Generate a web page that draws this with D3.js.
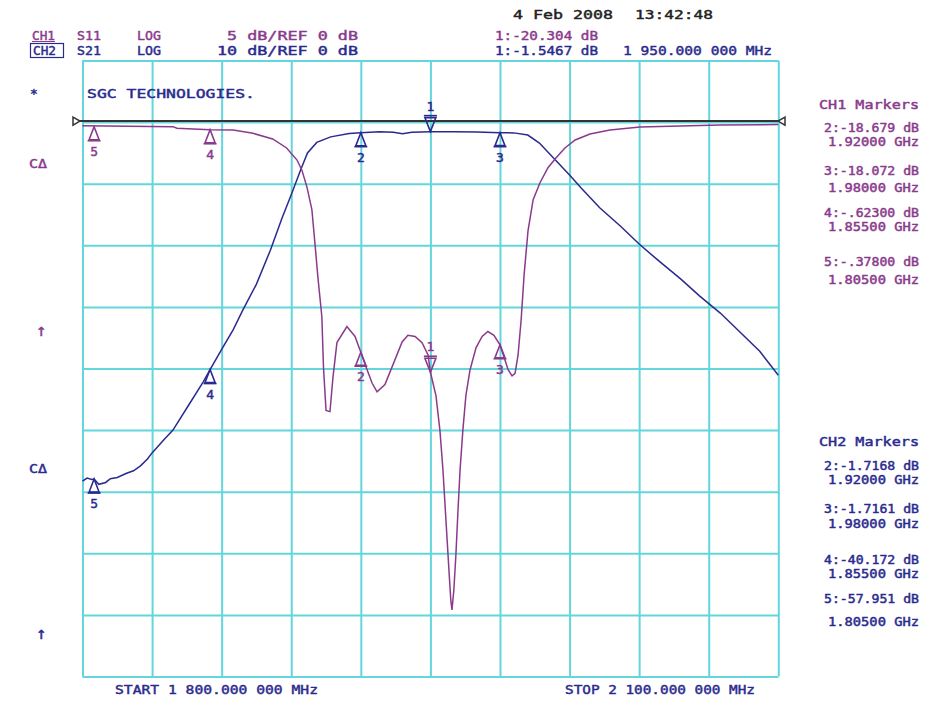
<!DOCTYPE html>
<html><head><meta charset="utf-8">
<script src="https://cdn.jsdelivr.net/npm/d3@7"></script>
<style>
body{margin:0;background:#fff}
text{font-family:"DejaVu Sans Mono",monospace;font-size:13px;stroke-width:0.45px;paint-order:stroke}
</style>
</head><body><svg id="c" width="941" height="714"></svg>
<script>
// ---------- DATA ----------
const s11Freq = [1800,1839,1840.7,1855,1865,1873.5,1882,1888,1892.5,1894.6,1896.8,1898.9,1900.2,1901.5,1903.2,1903.9,1905,1906.7,1908,1909.7,1914,1917.5,1920,1922.7,1924.9,1927,1930.4,1934.7,1937.8,1940.3,1943.4,1946.4,1949,1950,1952.4,1954.1,1955.4,1956.7,1958,1958.8,1959.3,1960.1,1961,1961.9,1962.8,1964,1965.3,1967.1,1969.7,1972.3,1974.8,1977.4,1980,1981.8,1983.5,1985.2,1986.5,1987.8,1989.1,1990.4,1992.1,1994.3,1997.3,2000.7,2004.2,2008,2012.4,2018.8,2027.4,2040.4,2057.6,2074.9,2100];
const s11Db = [-0.29,-0.37,-0.5,-0.623,-0.64,-0.91,-1.37,-2.1,-3.08,-3.9,-5.3,-7.1,-9.8,-12.6,-15.8,-19.9,-23.4,-23.5,-20.7,-17.9,-16.6,-17.4,-18.679,-20.1,-21.2,-21.9,-21.3,-19.3,-17.85,-17.3,-17.4,-17.9,-18.9,-20.304,-22.2,-25.0,-28.2,-32.3,-36.4,-38.8,-39.6,-38.0,-35.1,-31.5,-28.2,-25.0,-22.2,-20.1,-18.3,-17.4,-17.0,-17.3,-18.072,-19.1,-20.1,-20.6,-20.4,-18.9,-16.1,-12.4,-8.8,-6.3,-4.9,-3.7,-2.9,-2.1,-1.45,-0.97,-0.64,-0.4,-0.32,-0.24,-0.2];

const s21Freq = [1800,1802,1804,1805,1807,1810,1812,1815,1819,1822,1825,1828,1830,1835,1839,1846,1852,1855,1860,1865,1869,1875,1881,1886,1890,1894,1897,1901,1907,1915,1920,1928,1934,1938,1942,1950,1960,1970,1980,1986,1992,1997,2004,2010,2015,2023,2032,2040,2049,2058,2066,2075,2083,2092,2100];
const s21Db = [-58.3,-57.8,-58.0,-57.95,-58.8,-58.5,-57.9,-57.7,-57.0,-56.6,-55.8,-54.7,-53.7,-51.6,-50.0,-45.8,-42.2,-40.172,-36.9,-33.7,-30.6,-26.3,-20.8,-15.6,-11.8,-7.8,-5.0,-3.3,-2.4,-1.85,-1.7168,-1.55,-1.65,-1.9,-1.65,-1.5467,-1.55,-1.6,-1.7161,-1.75,-2.1,-3.4,-6.2,-8.6,-10.7,-13.9,-16.9,-19.8,-22.7,-25.5,-28.2,-31.0,-33.9,-37.2,-41.1];

const markerIds = ["1","2","3","4","5"];
const markerFreq = [1950,1920,1980,1855,1805];
const ch1MarkerDb = [-20.304,-18.679,-18.072,-0.623,-0.378];
const ch2MarkerDb = [-1.5467,-1.7168,-1.7161,-40.172,-57.951];

const ch1ReadoutDb = ["2:-18.679 dB","3:-18.072 dB","4:-.62300 dB","5:-.37800 dB"];
const ch2ReadoutDb = ["2:-1.7168 dB","3:-1.7161 dB","4:-40.172 dB","5:-57.951 dB"];
const readoutGHz = ["1.92000 GHz","1.98000 GHz","1.85500 GHz","1.80500 GHz"];

const freqStart = 1800, freqStop = 2100;
const ch1Scale = 5, ch2Scale = 10, refDb = 0;

// ---------- STYLE ----------
const C1 = "#8a3a8c", C2 = "#2a2a8e", GRID = "#62d6dc", BLK = "#333";

const svg = d3.select("#c");
const L = 82.5, R = 778.3, T = 60.5, B = 676.5;
const x = d3.scaleLinear().domain([freqStart, freqStop]).range([L, R]);
const y1 = d3.scaleLinear().domain([refDb + ch1Scale, refDb - 9*ch1Scale]).range([T, B]);
const y2 = d3.scaleLinear().domain([refDb + ch2Scale, refDb - 9*ch2Scale]).range([T, B]);

// grid via axes
const gx = svg.append("g").attr("transform", `translate(0,${B})`)
  .call(d3.axisBottom(x).tickValues(d3.range(freqStart, freqStop + 1, 30)).tickSize(-(B - T)).tickFormat(""));
const gy = svg.append("g").attr("transform", `translate(${L},0)`)
  .call(d3.axisLeft(y1).tickValues(d3.range(refDb + ch1Scale, refDb - 9*ch1Scale - 1, -ch1Scale)).tickSize(-(R - L)).tickFormat(""));
[gx, gy].forEach(g => {
  g.select(".domain").remove();
  g.selectAll("line").attr("stroke", GRID).attr("stroke-width", 2);
});

// reference line
const ry = y1(refDb) - 1;
svg.append("line").attr("x1", 74).attr("x2", 782).attr("y1", ry).attr("y2", ry)
  .attr("stroke", BLK).attr("stroke-width", 2);
svg.append("path").attr("d", `M73,${ry-4}L80,${ry}L73,${ry+4}Z`).attr("fill", "#fff").attr("stroke", BLK).attr("stroke-width", 1.5);
svg.append("path").attr("d", `M785,${ry-4}L778,${ry}L785,${ry+4}Z`).attr("fill", "#fff").attr("stroke", BLK).attr("stroke-width", 1.5);

// traces
const line1 = d3.line().x((d, i) => x(s11Freq[i])).y(d => y1(d));
const line2 = d3.line().x((d, i) => x(s21Freq[i])).y(d => y2(d));
svg.append("path").attr("d", line2(s21Db)).attr("fill", "none").attr("stroke", C2).attr("stroke-width", 1.5);
svg.append("path").attr("d", line1(s11Db)).attr("fill", "none").attr("stroke", C1).attr("stroke-width", 1.5);

// markers
function marker(px, py, id, color, active) {
  const g = svg.append("g").attr("stroke", color).attr("fill", "none").attr("stroke-width", 1.6);
  if (active) {
    g.append("path").attr("d", `M${px},${py}L${px-5.5},${py-14}L${px+5.5},${py-14}Z`);
    g.append("path").attr("d", `M${px-6.5},${py-16}H${px+6.5}`);
    svg.append("text").attr("x", px).attr("y", py - 21).attr("text-anchor", "middle").attr("fill", color).attr("stroke", color).text(id);
  } else {
    g.append("path").attr("d", `M${px},${py}L${px-5},${py+13}L${px+5},${py+13}Z`);
    g.append("path").attr("d", `M${px-6.5},${py+14}H${px+6.5}`);
    svg.append("text").attr("x", px).attr("y", py + 29).attr("text-anchor", "middle").attr("fill", color).attr("stroke", color).text(id);
  }
}
markerIds.forEach((id, i) => {
  marker(x(markerFreq[i]), y2(ch2MarkerDb[i]), id, C2, i === 0);
  marker(x(markerFreq[i]), y1(ch1MarkerDb[i]), id, C1, i === 0);
});

// texts
function txt(tx, ty, s, color, len, anchor, size) {
  const t = svg.append("text").attr("x", tx).attr("y", ty).attr("fill", color).attr("stroke", color).text(s);
  if (len) t.attr("textLength", len).attr("lengthAdjust", "spacingAndGlyphs");
  if (anchor) t.attr("text-anchor", anchor);
  if (size) t.style("font-size", size + "px");
  return t;
}
txt(513, 18.5, "4 Feb 2008", "#222", 100);
txt(635, 18.5, "13:42:48", "#222", 78);

txt(32, 39.5, "CH1", C1, 23);
svg.append("line").attr("x1", 32).attr("x2", 55).attr("y1", 41.5).attr("y2", 41.5).attr("stroke", C1).attr("stroke-width", 1);
txt(77, 39.5, "S11", C1, 24);
txt(137, 39.5, "LOG", C1, 24);
txt(227, 39.5, `${ch1Scale} dB/REF ${refDb} dB`, C1, 131);
txt(33, 55, "CH2", C2, 23);
svg.append("rect").attr("x", 30.5).attr("y", 43.5).attr("width", 33).attr("height", 14).attr("fill", "none").attr("stroke", C2).attr("stroke-width", 1.2);
txt(77, 55, "S21", C2, 24);
txt(137, 55, "LOG", C2, 24);
txt(217, 55, `${ch2Scale} dB/REF ${refDb} dB`, C2, 141);

txt(495, 39.5, "1:" + ch1MarkerDb[0] + " dB", C1, 103);
txt(495, 55, "1:" + ch2MarkerDb[0] + " dB", C2, 103);
txt(623, 55, "1 950.000 000 MHz", C2, 149);

txt(30, 98, "*", C2);
txt(87, 98, "SGC TECHNOLOGIES.", C2, 168);

txt(29, 168, "CΔ", C1, 18);
txt(36, 336, "↑", C1, null, null, 17);
txt(29, 473, "CΔ", C2, 18);
txt(36, 639, "↑", C2, null, null, 17);

txt(115, 694, "START 1 800.000 000 MHz", C2, 203);
txt(565, 694, "STOP 2 100.000 000 MHz", C2, 190);

// right panel readouts
const RX = 919, FS = 11.5;
txt(RX, 109, "CH1 Markers", C1, 100, "end", 12.5);
const ch1Y = [[132,146],[175,192],[217,231],[266,284]];
ch1ReadoutDb.forEach((s, i) => {
  txt(RX, ch1Y[i][0], s, C1, 95, "end", FS);
  txt(RX, ch1Y[i][1], readoutGHz[i], C1, 91, "end", FS);
});
txt(RX, 446, "CH2 Markers", C2, 100, "end", 12.5);
const ch2Y = [[470,484],[513,528],[564,578],[603,626]];
ch2ReadoutDb.forEach((s, i) => {
  txt(RX, ch2Y[i][0], s, C2, 95, "end", FS);
  txt(RX, ch2Y[i][1], readoutGHz[i], C2, 91, "end", FS);
});
</script>
</body></html>
